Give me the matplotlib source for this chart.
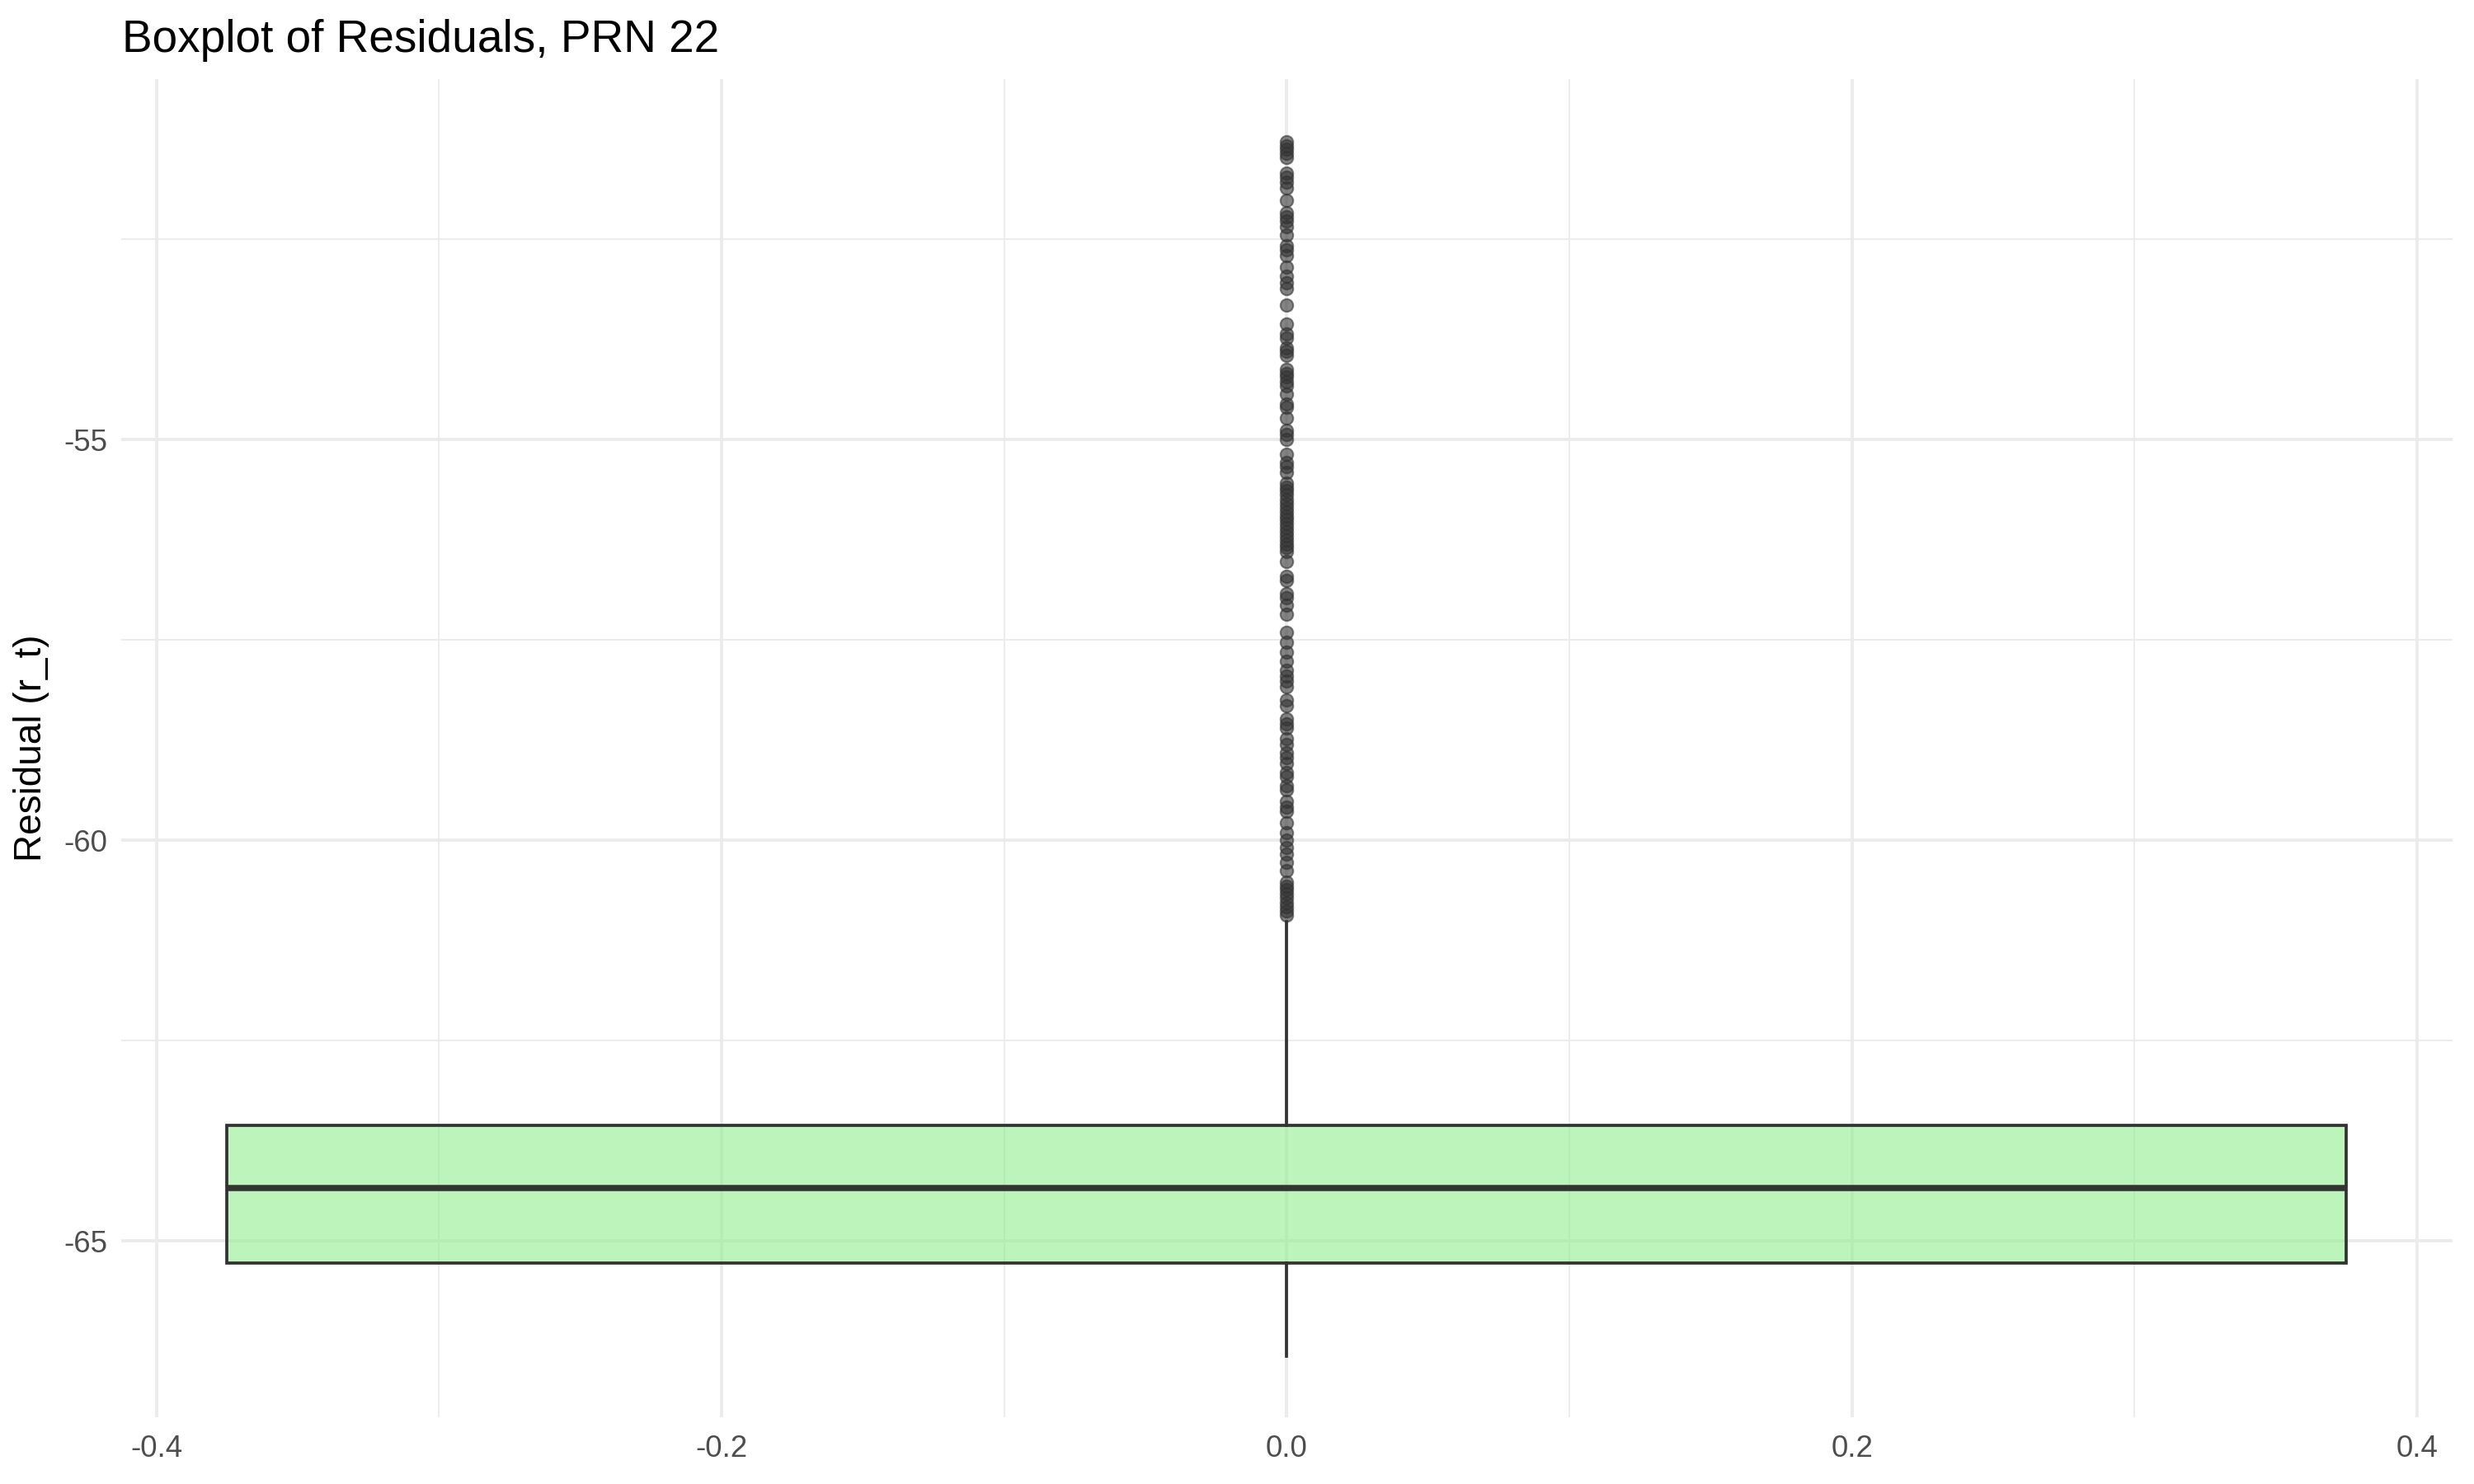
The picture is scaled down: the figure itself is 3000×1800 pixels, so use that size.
import numpy as np
import matplotlib
matplotlib.use("Agg")
import matplotlib.pyplot as plt

plt.rcParams['font.family'] = ['Liberation Sans', 'DejaVu Sans']

# box summary
q1 = -65.28
med = -64.34
q3 = -63.56
whis_lo = -66.44
whis_hi = -61.02

# outliers above the upper whisker
outliers = [
    -51.28, -51.33, -51.38, -51.43, -51.48, -51.67, -51.72, -51.79, -51.86,
    -52.01, -52.17, -52.22, -52.27, -52.34, -52.45, -52.58, -52.63, -52.70,
    -52.85, -52.96, -53.04, -53.11, -53.32, -53.56, -53.68, -53.73, -53.85,
    -53.90, -53.95, -54.12, -54.17, -54.22, -54.28, -54.33, -54.43, -54.55,
    -54.60, -54.73, -54.88, -54.94, -55.00, -55.18, -55.29, -55.34, -55.41,
    -55.54, -55.59, -55.64, -55.69, -55.75, -55.80, -55.85, -55.90, -55.95,
    -56.00, -56.05, -56.10, -56.15, -56.20, -56.25, -56.30, -56.35, -56.40,
    -56.52, -56.71, -56.76, -56.92, -56.97, -57.07, -57.18, -57.40, -57.53,
    -57.65, -57.76, -57.88, -57.95, -58.01, -58.08, -58.25, -58.32, -58.49,
    -58.55, -58.60, -58.73, -58.80, -58.91, -58.97, -59.04, -59.15, -59.21,
    -59.32, -59.37, -59.51, -59.59, -59.64, -59.78, -59.90, -60.00, -60.09,
    -60.17, -60.28, -60.38, -60.52, -60.57, -60.62, -60.67, -60.72, -60.78,
    -60.83, -60.88, -60.93,
]

xticks = [-0.4, -0.2, 0.0, 0.2, 0.4]
xtick_labels = ['-0.4', '-0.2', '0.0', '0.2', '0.4']
yticks = [-65, -60, -55]

fig = plt.figure(figsize=(10, 6), dpi=300)
ax = fig.add_axes([0.0490, 0.045, 0.9423, 0.9017])

stats = [{
    'med': med, 'q1': q1, 'q3': q3,
    'whislo': whis_lo, 'whishi': whis_hi,
    'fliers': np.array(outliers),
}]
ax.bxp(stats, positions=[0.0], widths=0.75, patch_artist=True,
       showcaps=False, zorder=3,
       boxprops=dict(facecolor=(0.565, 0.933, 0.565, 0.6), edgecolor='#333333', linewidth=0.9),
       medianprops=dict(color='#333333', linewidth=1.8, solid_capstyle='butt'),
       whiskerprops=dict(color='#333333', linewidth=0.9),
       flierprops=dict(marker='o', markersize=3.7, markerfacecolor='#333333',
                       markeredgecolor='#333333', markeredgewidth=0.5, alpha=0.6))

ax.set_xlim(-0.4125, 0.4125)
ax.set_ylim(-67.2, -50.5)

ax.set_xticks(xticks)
ax.set_xticklabels(xtick_labels)
ax.set_yticks(yticks)
ax.set_yticklabels([str(v) for v in yticks])
ax.set_xticks([-0.3, -0.1, 0.1, 0.3], minor=True)
ax.set_yticks([-62.5, -57.5, -52.5], minor=True)

ax.grid(which='major', color='#EBEBEB', linewidth=0.9)
ax.grid(which='minor', color='#EBEBEB', linewidth=0.45)
ax.set_axisbelow(True)
for s in ax.spines.values():
    s.set_visible(False)

ax.tick_params(which='both', length=0)
ax.tick_params(axis='x', labelsize=8.8, labelcolor='#4D4D4D', pad=5)
ax.tick_params(axis='y', labelsize=8.8, labelcolor='#4D4D4D', pad=4)

ax.set_ylabel('Residual (r_t)', fontsize=11, color='black', va='center')
ax.yaxis.set_label_coords(-0.0385, 0.5)

fig.text(0.0495, 0.965, 'Boxplot of Residuals, PRN 22', fontsize=13.2,
         color='black', ha='left', va='baseline')

fig.savefig('out.png', dpi=300, facecolor='white')
